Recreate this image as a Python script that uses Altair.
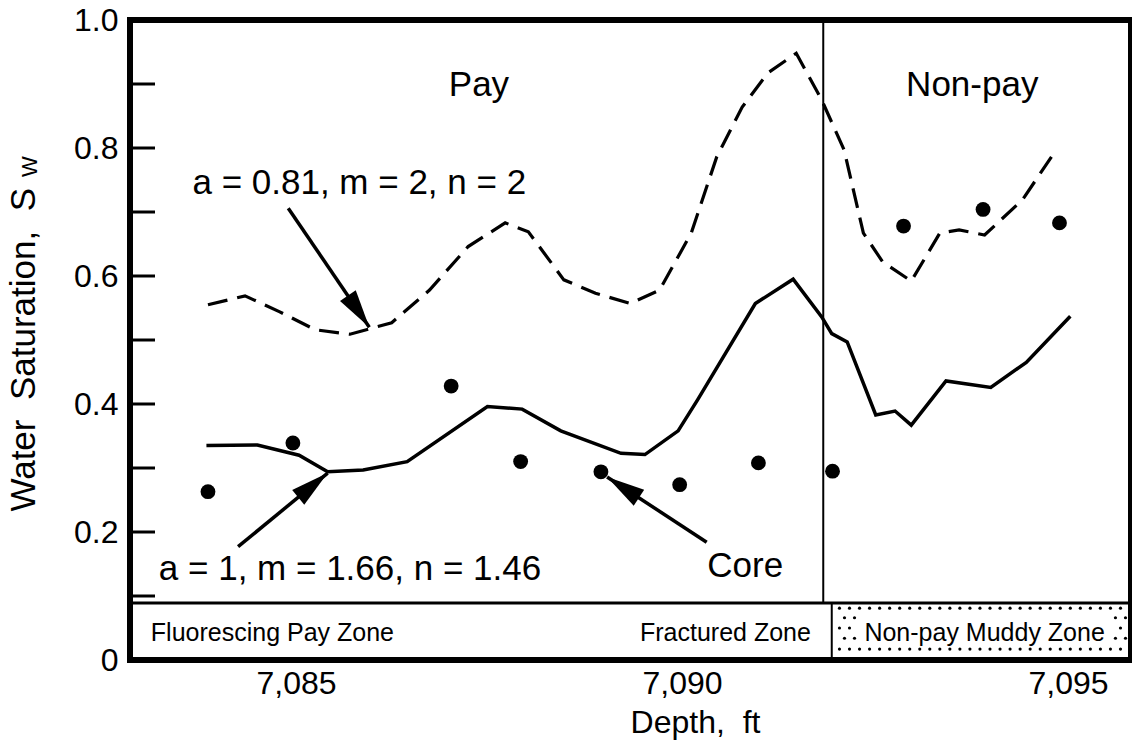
import altair as alt
import numpy as np
import pandas as pd

FONT = "Liberation Sans"
GAP = "\u00a0\u00a0"  # word gap that SVG does not collapse

# Water saturation from logs, a = 1, m = 1.66, n = 1.46 (solid curve)
fit_depth = [7083.84, 7084.50, 7085.04, 7085.41, 7085.87, 7086.44, 7087.48, 7087.93,
             7088.43, 7089.21, 7089.52, 7089.95, 7090.20, 7090.95, 7091.44, 7091.81,
             7091.94, 7092.14, 7092.51, 7092.76, 7092.97, 7093.42, 7094.00, 7094.46,
             7095.03]
fit_sw = [0.335, 0.336, 0.320, 0.294, 0.297, 0.310, 0.396, 0.392,
          0.358, 0.323, 0.321, 0.358, 0.406, 0.557, 0.595, 0.536,
          0.510, 0.497, 0.383, 0.389, 0.367, 0.436, 0.426, 0.465,
          0.537]

# Water saturation from logs, a = 0.81, m = 2, n = 2 (dashed curve)
std_depth = [7083.86, 7084.34, 7084.79, 7085.25, 7085.70, 7086.24, 7086.73, 7087.23,
             7087.71, 7088.01, 7088.47, 7088.88, 7089.33, 7089.71, 7090.12, 7090.45,
             7090.78, 7091.11, 7091.48, 7091.81, 7092.10, 7092.35, 7092.60, 7092.97,
             7093.34, 7093.59, 7093.92, 7094.41, 7094.83]
std_sw = [0.555, 0.569, 0.544, 0.516, 0.509, 0.527, 0.578, 0.646,
          0.683, 0.669, 0.594, 0.573, 0.557, 0.578, 0.667, 0.786,
          0.864, 0.917, 0.948, 0.875, 0.797, 0.667, 0.622, 0.592,
          0.667, 0.672, 0.664, 0.719, 0.794]

# Core measurements
core_depth = [7083.86, 7084.96, 7087.01, 7087.91, 7088.95, 7089.97, 7090.99,
              7091.95, 7092.87, 7093.90, 7094.89]
core_sw = [0.263, 0.339, 0.428, 0.310, 0.294, 0.274, 0.308,
           0.295, 0.678, 0.704, 0.683]

# Zone boundaries (ft) and zone strip height (Sw units)
pay_boundary = 7091.83
strip_boundary = 7091.94
strip_top = 0.089

x_ticks = [7085, 7090, 7095]
y_labels = [0, 0.2, 0.4, 0.6, 0.8, 1.0]
y_minor = [0.1, 0.2, 0.3, 0.4, 0.5, 0.6, 0.7, 0.8, 0.9]

W, H = 1001, 640
X_LO = 7082.85
X_HI = X_LO + W / 77.2
PX_FT = W / (X_HI - X_LO)
PX_SW = H

xscale = alt.Scale(domain=[X_LO, X_HI], nice=False, zero=False)
yscale = alt.Scale(domain=[0, 1], nice=False, zero=False)

x_axis = alt.Axis(values=x_ticks, format=",d", labelFont=FONT, labelFontSize=32,
                  labelColor="black", ticks=False, tickSize=0, domain=False, grid=False,
                  labelPadding=8, labelFlush=False,
                  title="Depth," + GAP + "ft", titleFont=FONT, titleFontSize=32,
                  titleFontWeight="normal", titleColor="black",
                  titleX=565, titleY=72, titleBaseline="alphabetic", titleAlign="center")
y_axis = alt.Axis(values=y_labels,
                  labelExpr="datum.value == 0 ? '0' : format(datum.value, '.1f')",
                  labelFont=FONT, labelFontSize=32, labelColor="black",
                  ticks=False, tickSize=0, domain=False, grid=False, labelPadding=12,
                  labelFlush=False)


def X(field="depth"):
    return alt.X(f"{field}:Q", scale=xscale, axis=x_axis)


def Y(field="sw"):
    return alt.Y(f"{field}:Q", scale=yscale, axis=y_axis, title=None)


fit_df = pd.DataFrame({"depth": fit_depth, "sw": fit_sw})
std_df = pd.DataFrame({"depth": std_depth, "sw": std_sw})
core_df = pd.DataFrame({"depth": core_depth, "sw": core_sw})

# Inner tick marks on the saturation axis
ticks = alt.Chart(pd.DataFrame({"sw": y_minor})).mark_rule(
    color="black", strokeWidth=3
).encode(x=alt.value(0), x2=alt.value(25), y=Y())

# Stippled fill of the non-pay strip
dot_rows = [0.081, 0.066, 0.050, 0.034, 0.017]
dots = []
for i, r in enumerate(dot_rows):
    start = strip_boundary + 0.10 + (0.065 if i % 2 else 0.0)
    for d in np.arange(start, X_HI - 0.04, 0.13):
        dots.append({"depth": float(d), "sw": r})
dots_layer = alt.Chart(pd.DataFrame(dots)).mark_circle(
    color="black", size=10, opacity=1
).encode(x=X(), y=Y())

label_bg = alt.Chart(pd.DataFrame({
    "depth": [7092.27], "depth2": [7095.58], "sw": [0.022], "sw2": [0.072]
})).mark_rect(color="white").encode(
    x=X(), x2=alt.X2("depth2"), y=Y(), y2=alt.Y2("sw2"))

# Pay / non-pay separator, strip border and strip divider
vline = alt.Chart(pd.DataFrame({"depth": [pay_boundary], "sw": [strip_top], "sw2": [1.0]})).mark_rule(
    color="black", strokeWidth=2
).encode(x=X(), y=Y(), y2=alt.Y2("sw2"))
strip_line = alt.Chart(pd.DataFrame({"depth": [X_LO], "depth2": [X_HI], "sw": [strip_top]})).mark_rule(
    color="black", strokeWidth=3
).encode(x=X(), x2=alt.X2("depth2"), y=Y())
strip_div = alt.Chart(pd.DataFrame({"depth": [strip_boundary], "sw": [0.0], "sw2": [strip_top]})).mark_rule(
    color="black", strokeWidth=2
).encode(x=X(), y=Y(), y2=alt.Y2("sw2"))

fit_line = alt.Chart(fit_df).mark_line(color="black", strokeWidth=3.5, strokeJoin="miter").encode(
    x=X(), y=Y(), order="depth:Q")
std_line = alt.Chart(std_df).mark_line(color="black", strokeWidth=3.2, strokeDash=[20, 10]).encode(
    x=X(), y=Y(), order="depth:Q")
core_pts = alt.Chart(core_df).mark_circle(color="black", size=220, opacity=1).encode(x=X(), y=Y())

# Annotation texts
big_text = pd.DataFrame([
    {"depth": 7087.37, "sw": 0.898, "label": "Pay"},
    {"depth": 7093.76, "sw": 0.898, "label": "Non-pay"},
    {"depth": 7085.82, "sw": 0.745, "label": "a = 0.81, m = 2, n = 2"},
    {"depth": 7085.70, "sw": 0.142, "label": "a = 1, m = 1.66, n = 1.46"},
    {"depth": 7090.82, "sw": 0.147, "label": "Core"},
])
big_labels = alt.Chart(big_text).mark_text(
    font=FONT, fontSize=35, color="black", baseline="middle", align="center"
).encode(x=X(), y=Y(), text="label:N")

strip_left = alt.Chart(pd.DataFrame([
    {"depth": 7083.12, "sw": 0.042, "label": "Fluorescing Pay Zone"},
])).mark_text(font=FONT, fontSize=25, color="black", baseline="middle", align="left").encode(
    x=X(), y=Y(), text="label:N")
strip_right = alt.Chart(pd.DataFrame([
    {"depth": 7091.67, "sw": 0.042, "label": "Fractured Zone"},
])).mark_text(font=FONT, fontSize=25, color="black", baseline="middle", align="right").encode(
    x=X(), y=Y(), text="label:N")
strip_mid = alt.Chart(pd.DataFrame([
    {"depth": 7093.92, "sw": 0.042, "label": "Non-pay Muddy Zone"},
])).mark_text(font=FONT, fontSize=25, color="black", baseline="middle", align="center").encode(
    x=X(), y=Y(), text="label:N")

# Arrows: tail point and tip point
arrows = pd.DataFrame([
    {"depth": 7084.90, "sw": 0.706, "tip_depth": 7085.95, "tip_sw": 0.520},
    {"depth": 7084.25, "sw": 0.177, "tip_depth": 7085.41, "tip_sw": 0.292},
    {"depth": 7090.32, "sw": 0.184, "tip_depth": 7089.03, "tip_sw": 0.286},
])
dx = (arrows["tip_depth"] - arrows["depth"]) * PX_FT
dy = -(arrows["tip_sw"] - arrows["sw"]) * PX_SW
arrows["angle"] = (np.degrees(np.arctan2(dx, -dy)) + 360) % 360

shafts = alt.Chart(arrows).mark_rule(color="black", strokeWidth=3.5).encode(
    x=X(), y=Y(), x2=alt.X2("tip_depth"), y2=alt.Y2("tip_sw"))
heads = alt.Chart(arrows).mark_point(
    shape="M0,0 L0.25,1 L-0.25,1 Z", filled=True, color="black", opacity=1,
    size=5800, strokeWidth=0
).encode(x=alt.X("tip_depth:Q", scale=xscale, axis=x_axis),
         y=alt.Y("tip_sw:Q", scale=yscale, axis=y_axis, title=None),
         angle=alt.Angle("angle:Q", scale=None))

# Saturation axis title with subscript
ytitle = alt.Chart(pd.DataFrame({"t": ["Water" + GAP + "Saturation," + GAP + "S"]})).mark_text(
    font=FONT, fontSize=35, color="black", angle=270, align="right", baseline="alphabetic"
).encode(x=alt.value(-95), y=alt.value(168), text="t:N")
ysub = alt.Chart(pd.DataFrame({"t": ["W"]})).mark_text(
    font=FONT, fontSize=22, color="black", angle=270, align="left", baseline="alphabetic"
).encode(x=alt.value(-93), y=alt.value(157), text="t:N")

chart = alt.layer(
    dots_layer, label_bg, strip_line, strip_div, vline, ticks,
    std_line, fit_line, core_pts, shafts, heads,
    big_labels, strip_left, strip_right, strip_mid, ytitle, ysub
).properties(
    width=W, height=H,
    background="white",
    autosize=alt.AutoSizeParams(type="none"),
    padding={"left": 130, "top": 20, "right": 1, "bottom": 88},
).configure_view(stroke="black", strokeWidth=6)

chart.save("out.html", embed_options={"renderer": "svg", "actions": False})
